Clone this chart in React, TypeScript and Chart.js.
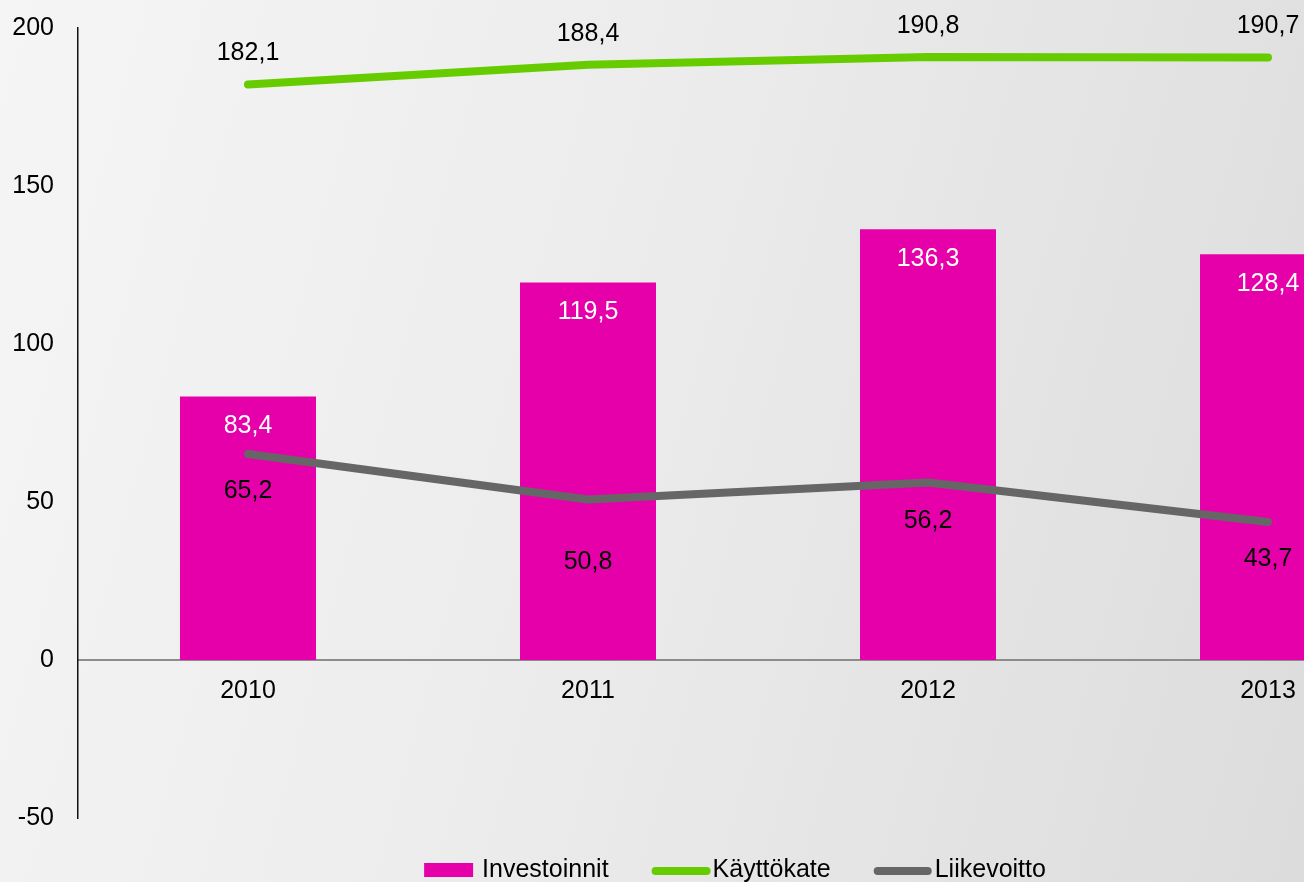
import React, { useEffect, useRef } from 'react';
import { Chart, registerables } from 'chart.js';

Chart.register(...registerables);

const categories = ['2010', '2011', '2012', '2013'];
const investoinnit = [83.4, 119.5, 136.3, 128.4];
const kayttokate = [182.1, 188.4, 190.8, 190.7];
const liikevoitto = [65.2, 50.8, 56.2, 43.7];
const yMin = -50;
const yMax = 200;
const yStep = 50;

const FONT = "'Liberation Sans', Arial, Helvetica, sans-serif";
const fmt = (v: number) => v.toFixed(1).replace('.', ',');

const valueLabels = {
  id: 'valueLabels',
  afterDatasetsDraw(chart: any, _args: any, opts: any) {
    const ctx = chart.ctx;
    ctx.save();
    ctx.font = `25px ${FONT}`;
    ctx.textAlign = 'center';
    ctx.textBaseline = 'middle';
    chart.data.datasets.forEach((ds: any, i: number) => {
      const meta = chart.getDatasetMeta(i);
      const offs = opts.offsets[i];
      ctx.fillStyle = opts.colors[i];
      meta.data.forEach((el: any, j: number) => {
        ctx.fillText(fmt(ds.data[j]), el.x, el.y + offs[j]);
      });
    });
    ctx.restore();
  },
};

const customLegend = {
  id: 'customLegend',
  afterDraw(chart: any, _args: any, opts: any) {
    const ctx = chart.ctx;
    ctx.save();
    ctx.font = `25px ${FONT}`;
    ctx.textBaseline = 'middle';
    ctx.textAlign = 'left';
    const dss = chart.data.datasets;
    const widths = dss.map((ds: any, i: number) => opts.symW[i] + opts.symGap[i] + ctx.measureText(ds.label).width);
    const total = widths.reduce((a: number, b: number) => a + b, 0) + opts.itemGap * (dss.length - 1);
    let x = opts.cx - total / 2;
    const y = opts.y;
    dss.forEach((ds: any, i: number) => {
      const w = opts.symW[i];
      if (ds.type === 'bar') {
        ctx.fillStyle = ds.backgroundColor;
        ctx.fillRect(x, y - 7, w, 14);
      } else {
        ctx.strokeStyle = ds.borderColor;
        ctx.lineWidth = 8;
        ctx.lineCap = 'round';
        ctx.beginPath();
        ctx.moveTo(x + 4, y + 1);
        ctx.lineTo(x + w - 4, y + 1);
        ctx.stroke();
      }
      ctx.fillStyle = '#000';
      ctx.fillText(ds.label, x + w + opts.symGap[i], y);
      x += widths[i] + opts.itemGap;
    });
    ctx.restore();
  },
};

export default function App() {
  const ref = useRef<HTMLCanvasElement>(null);

  useEffect(() => {
    if (!ref.current) return;
    const chart = new Chart(ref.current, {
      type: 'bar',
      data: {
        labels: categories,
        datasets: [
          {
            type: 'bar',
            label: 'Investoinnit',
            data: investoinnit,
            backgroundColor: '#E600A9',
            borderWidth: 0,
            categoryPercentage: 1,
            barPercentage: 0.4,
            order: 2,
          },
          {
            type: 'line',
            label: 'Käyttökate',
            data: kayttokate,
            borderColor: '#66CC00',
            backgroundColor: '#66CC00',
            borderWidth: 8,
            borderCapStyle: 'round',
            borderJoinStyle: 'round',
            pointRadius: 0,
            tension: 0,
            order: 1,
          },
          {
            type: 'line',
            label: 'Liikevoitto',
            data: liikevoitto,
            borderColor: '#666666',
            backgroundColor: '#666666',
            borderWidth: 8,
            borderCapStyle: 'round',
            borderJoinStyle: 'round',
            pointRadius: 0,
            tension: 0,
            order: 1,
          },
        ] as any,
      },
      options: {
        animation: false,
        responsive: false,
        devicePixelRatio: 1,
        events: [],
        layout: { padding: { top: 28, bottom: 64, left: 0, right: 32 } },
        plugins: {
          legend: { display: false },
          tooltip: { enabled: false },
          valueLabels: {
            offsets: [
              [30, 30, 30, 30],
              [-31, -31, -31, -31],
              [37, 63, 39, 37],
            ],
            colors: ['#FFFFFF', '#000000', '#000000'],
          },
          customLegend: {
            cx: 735,
            y: 870,
            symW: [49, 59, 58],
            symGap: [9, 2, 3],
            itemGap: 43,
          },
        } as any,
        scales: {
          x: {
            type: 'category',
            position: { y: 0 } as any,
            offset: true,
            grid: { display: false, drawTicks: false },
            border: { display: true, color: '#8C8C8C', width: 2 },
            ticks: {
              color: '#000',
              font: { family: FONT, size: 25 },
              padding: 16,
              maxRotation: 0,
              autoSkip: false,
            },
            afterFit(scale: any) {
              scale.paddingLeft = 0;
              scale.paddingRight = 0;
            },
          },
          y: {
            type: 'linear',
            min: yMin,
            max: yMax,
            grid: { display: false, drawTicks: false },
            border: { display: true, color: '#111111', width: 1.5 },
            ticks: {
              stepSize: yStep,
              color: '#000',
              font: { family: FONT, size: 25 },
              padding: 24,
            },
            afterFit(scale: any) {
              scale.width = 78;
              scale.paddingTop = 0;
              scale.paddingBottom = 0;
            },
          },
        },
      },
      plugins: [valueLabels, customLegend],
    });
    return () => chart.destroy();
  }, []);

  return (
    <div
      style={{
        position: 'fixed',
        left: 0,
        top: 0,
        width: 1304,
        height: 882,
        overflow: 'hidden',
        background: 'linear-gradient(105deg, #f5f5f5 0%, #ececec 45%, #dcdcdc 100%)',
      }}
    >
      <canvas ref={ref} width={1470} height={882} style={{ display: 'block' }} />
    </div>
  );
}
